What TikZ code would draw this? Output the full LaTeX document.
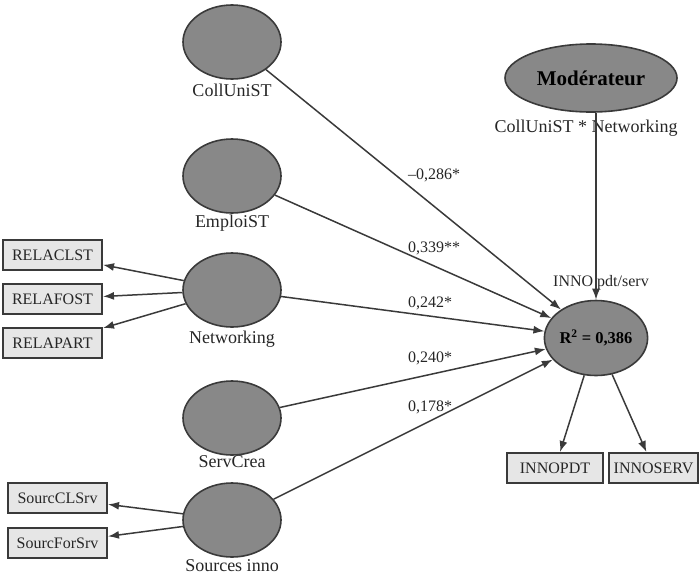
\documentclass[tikz,border=0pt]{standalone}
\usepackage{fontspec}
\setmainfont{Liberation Serif}
\usepackage{tikz}
\usetikzlibrary{arrows.meta,shapes.geometric}
\definecolor{linegray}{HTML}{3A3A3A}
\definecolor{latentfill}{HTML}{888888}
\definecolor{boxfill}{HTML}{E6E6E6}
\tikzstyle{latent} = [ellipse, draw=linegray, line width=1.6pt, fill=latentfill, minimum width=98pt, minimum height=74pt, inner sep=0pt]
\tikzstyle{manifest} = [rectangle, draw=linegray, line width=2pt, fill=boxfill, minimum width=99pt, minimum height=30pt, inner sep=0pt, font=\fontsize{16}{18}\selectfont, text=black!85]
\tikzstyle{varname} = [inner sep=0pt, font=\fontsize{18}{20}\selectfont, text=black!85]
\tikzstyle{coef} = [inner sep=0pt, anchor=west, font=\fontsize{16}{18}\selectfont, text=black!85]
\tikzstyle{arr} = [-{Latex[length=11pt,width=8pt]}, draw=linegray, line width=1.5pt]

\begin{document}
\begin{tikzpicture}[x=1pt,y=-1pt]
    \useasboundingbox (0,0) rectangle (700,576);
    % latent variables
    \node [latent] (coll) at (232,42) {};
    \node [latent] (emploi) at (232,176) {};
    \node [latent] (net) at (232,290) {};
    \node [latent] (serv) at (232,418) {};
    \node [latent] (sources) at (232,520) {};
    \node [latent, minimum width=172pt, minimum height=68pt] (mod) at (591,78)
    {\fontsize{21}{24}\selectfont\bfseries Modérateur};
    \node [latent, minimum width=97pt, minimum height=75pt] (r2) at (596,338)
    {\fontsize{16.5}{18}\selectfont\bfseries R\textsuperscript{2} = 0,386};

    % names
    \node [varname] at (232,90) {CollUniST};
    \node [varname] at (232,223) {EmploiST};
    \node [varname] at (232,339) {Networking};
    \node [varname] at (232,462) {ServCrea};
    \node [varname] at (232,566) {Sources inno};
    \node [varname] at (586,128) {CollUniST * Networking};
    \node [varname, font=\fontsize{16}{18}\selectfont] at (601,283) {INNO pdt/serv};

    % indicators
    \node [manifest] (relaclst) at (52.5,255) {RELACLST};
    \node [manifest] (relafost) at (52.5,299) {RELAFOST};
    \node [manifest] (relapart) at (52.5,343) {RELAPART};
    \node [manifest] (sourccl) at (57.5,498) {SourcCLSrv};
    \node [manifest] (sourcfor) at (57.5,543) {SourcForSrv};
    \node [manifest, minimum width=96pt] (innopdt) at (555,468) {INNOPDT};
    \node [manifest, minimum width=89pt] (innoserv) at (653.5,468) {INNOSERV};

    % networking -> indicators
    \draw [arr] (net) -- (relaclst);
    \draw [arr] (net) -- (relafost);
    \draw [arr] (net) -- (relapart);
    % sources -> indicators
    \draw [arr] (sources) -- (sourccl);
    \draw [arr] (sources) -- (sourcfor);
    % r2 -> indicators
    \draw [arr] (r2) -- (innopdt);
    \draw [arr] (r2) -- (innoserv);

    % structural paths
    \draw [arr] (coll) -- (r2);
    \draw [arr] (emploi) -- (r2);
    \draw [arr] (net) -- (r2);
    \draw [arr] (serv) -- (r2);
    \draw [arr] (sources) -- (r2);
    \draw [arr] (mod.south -| r2) -- (r2);

    % path coefficients
    \node [coef] at (408,175) {–0,286*};
    \node [coef] at (408,248) {0,339**};
    \node [coef] at (408,303) {0,242*};
    \node [coef] at (408,358) {0,240*};
    \node [coef] at (408,407) {0,178*};
\end{tikzpicture}
\end{document}
